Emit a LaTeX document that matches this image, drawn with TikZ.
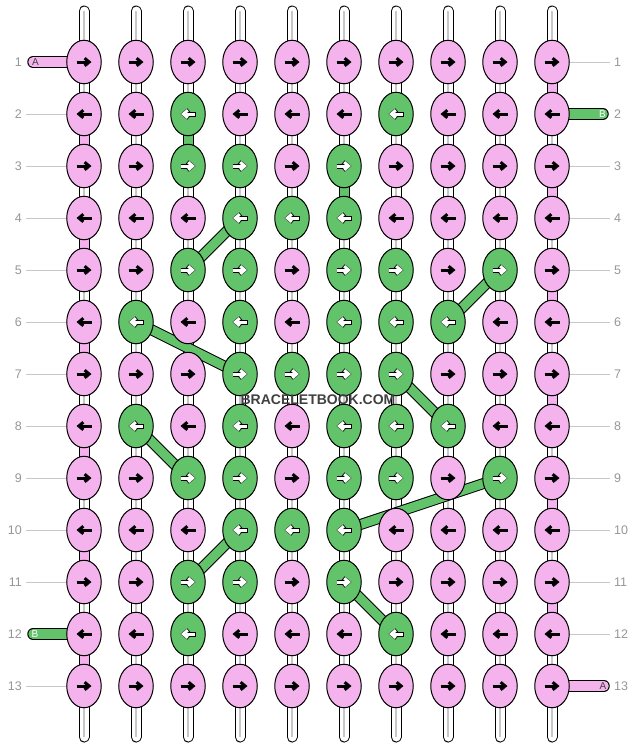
\documentclass[tikz,border=0pt]{standalone}
\usepackage{fontspec}
\setmainfont{Liberation Sans}
\usetikzlibrary{shapes.geometric, arrows.meta, backgrounds}
\definecolor{kpink}{RGB}{244,179,236}
\definecolor{kgreen}{RGB}{98,195,106}
\definecolor{labgray}{RGB}{150,150,150}
\tikzstyle{pknot} = [ellipse, draw, line width=1pt, fill=kpink, minimum width=34.5pt, minimum height=43.5pt, inner sep=0pt]
\tikzstyle{gknot} = [pknot, fill=kgreen]
\tikzstyle{tube} = [line width=1pt, double=white, double distance=9pt, line cap=round]
\tikzstyle{core} = [draw=black!22, line width=2pt]
\tikzstyle{pinkband} = [line width=1pt, double=kpink, double distance=9.5pt, line cap=round]
\tikzstyle{greenband} = [line width=1pt, double=kgreen, double distance=9.5pt, line cap=round]
\tikzstyle{pinkvert} = [line width=1pt, double=kpink, double distance=9pt]
\tikzstyle{greenlink} = [line width=1pt, double=kgreen, double distance=9pt, line cap=round]
\tikzstyle{rowlab} = [text=labgray, font=\fontsize{12.5}{14}\selectfont, inner xsep=4pt, inner ysep=0pt]
\tikzstyle{rowline} = [draw=black!22, line width=1pt]
\tikzstyle{tag} = [font=\fontsize{10}{12}\selectfont, inner sep=0pt]
\tikzstyle{tipr} = [-{Straight Barb[length=4.5pt, width=7.5pt]}]
\tikzstyle{tipl} = [{Straight Barb[length=4.5pt, width=7.5pt]}-]

\begin{document}
\begin{tikzpicture}[x=1pt, y=-1pt]
    \useasboundingbox (0,0) rectangle (636,748);

    % knots, green ones listed per row
    \def\gk{gknot}
    \foreach \r/\gl in {1/{0}, 2/{3,7}, 3/{3,4,6}, 4/{4,5,6}, 5/{3,4,6,7,9}, 6/{2,4,6,7,8}, 7/{4,5,6,7},
        8/{2,4,6,7,8}, 9/{3,4,6,7,9}, 10/{4,5,6}, 11/{3,4,6}, 12/{3,7}, 13/{0}} {
        \foreach \c in {1,...,10} {
            \gdef\kst{pknot}
            \foreach \g in \gl {\ifnum\g=\c\relax \gdef\kst{gknot}\fi}
            \node[\kst] (k-\r-\c) at ({84+52*(\c-1)}, {62+52*(\r-1)}) {};
            \ifodd\r \def\ts{tipr}\else \def\ts{tipl}\fi
            \ifx\kst\gk
                \draw[\ts, line width=5pt] ([xshift=-7.5pt]k-\r-\c.center) -- ([xshift=7.5pt]k-\r-\c.center);
                \draw[\ts, line width=3pt, white] ([xshift=-7pt]k-\r-\c.center) -- ([xshift=7pt]k-\r-\c.center);
            \else
                \draw[\ts, line width=3pt] ([xshift=-7.5pt]k-\r-\c.center) -- ([xshift=7.5pt]k-\r-\c.center);
            \fi
        }
    }

    % thread ends
    \coordinate (endA1) at (33,62);
    \coordinate (endB2) at (603,114);
    \coordinate (endB12) at (33,634);
    \coordinate (endA13) at (604,686);
    \node[tag, text=black!75] (tagA1) at (35.5,62) {A};
    \node[tag, text=white] (tagB2) at (602.5,114) {B};
    \node[tag, text=white] (tagB12) at (35,634) {B};
    \node[tag, text=black!75] (tagA13) at (603,686) {A};

    % row numbers
    \foreach \r in {1,...,13} {
        \node[rowlab, anchor=east] (ll-\r) at (26, {62+52*(\r-1)}) {\r};
        \node[rowlab, anchor=west] (rl-\r) at (610, {62+52*(\r-1)}) {\r};
    }
    \foreach \r in {2,...,11,13} \draw[rowline] (ll-\r) -- (k-\r-1);
    \foreach \r in {1,3,4,5,6,7,8,9,10,11,12} \draw[rowline] (k-\r-10) -- (rl-\r);

    \node[font=\bfseries\fontsize{14}{16}\selectfont, text=black!75] (mark) at (318,399.5) {BRACELETBOOK.COM};

    \begin{pgfonlayer}{background}
        \foreach \c in {1,...,10} {
            \coordinate (top-\c) at ({84+52*(\c-1)}, 11);
            \coordinate (bot-\c) at ({84+52*(\c-1)}, 737);
            \draw[tube] (top-\c) -- (bot-\c);
            \draw[core] (top-\c) -- (bot-\c);
        }
        % pink thread turning at the edges
        \foreach \r [evaluate=\r as \n using int(\r+1)] in {2,4,...,12}
            \draw[pinkvert] (k-\r-1.center) -- (k-\n-1.center);
        \foreach \r [evaluate=\r as \n using int(\r+1)] in {1,3,...,11}
            \draw[pinkvert] (k-\r-10.center) -- (k-\n-10.center);
        \foreach \r in {1,...,13}
            \foreach \c [evaluate=\c as \n using int(\c+1)] in {1,...,9}
                \draw[pinkband] (k-\r-\c.center) -- (k-\r-\n.center);
        \draw[pinkband] (k-1-1.center) -- (endA1);
        \draw[pinkband] (k-13-10.center) -- (endA13);
        \draw[greenband] (k-2-10.center) -- (endB2);
        \draw[greenband] (k-12-1.center) -- (endB12);
        % green thread jumping between rows
        \foreach \a/\b in {2-3/3-3, 3-6/4-6, 4-4/5-3, 5-9/6-8, 6-2/7-4, 7-7/8-8, 8-2/9-3, 9-9/10-6, 10-4/11-3, 11-6/12-7}
            \draw[greenlink] (k-\a.center) -- (k-\b.center);
    \end{pgfonlayer}
\end{tikzpicture}
\end{document}
